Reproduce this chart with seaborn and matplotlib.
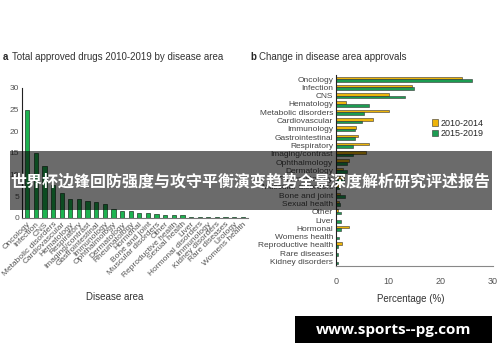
import pandas as pd
import seaborn as sns
import matplotlib.pyplot as plt
from matplotlib.patches import Rectangle

# panel a : total approved drugs 2010-2019 (%)
areas_a = ["Oncology", "Infection", "CNS", "Metabolic disorders", "Cardiovascular",
           "Hematology", "Respiratory", "Imaging/contrast", "Gastrointestinal",
           "Immunology", "Ophthalmology", "Dermatology", "Rheumatology", "Hormonal",
           "Bone and joint", "Muscular disorders", "Other", "Reproductive health",
           "Sexual health", "Liver", "Hormonal disorders", "Immunology",
           "Kidney disorders", "Rare diseases", "Urology", "Womens health"]
total_a = [25, 15, 12, 7.5, 5.7, 4.3, 4.3, 3.9, 3.7, 3.2, 2.1, 1.6, 1.6, 1.2,
           1.2, 0.8, 0.6, 0.6, 0.6, 0.3, 0.2, 0.2, 0.2, 0.2, 0.2, 0.2]

# panel b : change in disease area approvals (%)
areas_b = ["Oncology", "Infection", "CNS", "Hematology", "Metabolic disorders",
           "Cardiovascular", "Immunology", "Gastrointestinal", "Respiratory",
           "Imaging/contrast", "Ophthalmology", "Dermatology", "Rheumatology",
           "Muscular disorders", "Bone and joint", "Sexual health", "Other", "Liver",
           "Hormonal", "Womens health", "Reproductive health", "Rare diseases",
           "Kidney disorders"]
periods = ["2010-2014", "2015-2019"]
pct_2010_2014 = [24.1, 14.6, 10.2, 1.9, 10.2, 7.0, 3.8, 4.3, 6.4, 5.7, 2.5, 1.4,
                 1.5, 0.8, 0.8, 0.5, 0.3, 0.0, 2.5, 0.0, 1.2, 0.0, 0.0]
pct_2015_2019 = [26.0, 14.9, 13.2, 6.4, 5.4, 5.0, 3.6, 3.6, 3.2, 3.2, 2.2, 2.2,
                 1.6, 0.6, 1.7, 0.8, 0.9, 0.9, 0.9, 0.5, 0.3, 0.3, 0.3]

banner = "世界杯边锋回防强度与攻守平衡演变趋势全景深度解析研究评述报告"
site = "www.sports--pg.com"

sns.set_style("white")
plt.rcParams["font.family"] = ["Liberation Sans", "DejaVu Sans"]

green = "#1db350"
yellow = "#edb40a"
grey = "#555555"

fig = plt.figure(figsize=(5, 3.62), dpi=100)

# a
ax1 = fig.add_axes([0.044, 0.398, 0.452, 0.359])
df_a = pd.DataFrame({"pos": range(len(areas_a)), "pct": total_a})
sns.barplot(data=df_a, x="pos", y="pct", color=green, saturation=1, width=0.5,
            edgecolor="#1b3a25", linewidth=0.5, ax=ax1)
ax1.set_ylim(0, 30)
ax1.set_xlim(-0.6, len(areas_a) - 0.4)
ax1.set_yticks(range(0, 31, 5))
ax1.set_xticks(range(len(areas_a)))
ax1.set_xticklabels(areas_a, rotation=45, ha="right", rotation_mode="anchor")
ax1.set_xlabel("")
ax1.set_ylabel("")
ax1.tick_params(axis="both", length=0, labelsize=6, labelcolor=grey, pad=2)
sns.despine(ax=ax1)
ax1.spines["left"].set_color("#222222")
ax1.spines["bottom"].set_color("#777777")
ax1.spines["left"].set_linewidth(0.8)
ax1.spines["bottom"].set_linewidth(0.8)

# b
ax2 = fig.add_axes([0.672, 0.266, 0.313, 0.527])
df_b = pd.DataFrame({
    "area": areas_b * 2,
    "pct": pct_2010_2014 + pct_2015_2019,
    "period": [periods[0]] * len(areas_b) + [periods[1]] * len(areas_b),
})
sns.barplot(data=df_b, y="area", x="pct", hue="period", hue_order=periods,
            order=areas_b, palette=[yellow, "#1c9c52"], saturation=1, width=0.62,
            edgecolor="#333333", linewidth=0.4, ax=ax2)
ax2.set_xlim(0, 30)
ax2.set_xticks([0, 10, 20, 30])
ax2.set_xlabel("")
ax2.set_ylabel("")
ax2.tick_params(axis="y", length=0, labelsize=6, labelcolor="#444444", pad=2)
ax2.tick_params(axis="x", length=0, labelsize=6.5, labelcolor=grey, pad=8)
sns.despine(ax=ax2)
ax2.spines["left"].set_color("#222222")
ax2.spines["bottom"].set_color("#888888")
ax2.spines["left"].set_linewidth(0.8)
ax2.spines["bottom"].set_linewidth(0.8)
ax2.legend(loc="upper left", bbox_to_anchor=(0.855, 0.685), bbox_transform=fig.transFigure,
           frameon=False, fontsize=6.5, handlelength=0.7, handleheight=0.7,
           handletextpad=0.3, labelspacing=0.15, borderpad=0)

# titles and axis names
fig.text(0.006, 0.842, "a", fontsize=7, fontweight="bold", va="center")
fig.text(0.024, 0.842, "Total approved drugs 2010-2019 by disease area", fontsize=7,
         color="#333333", va="center")
fig.text(0.5, 0.842, "b", fontsize=7, fontweight="bold", va="center")
fig.text(0.518, 0.842, "Change in disease area approvals", fontsize=7,
         color="#333333", va="center")
fig.text(0.23, 0.18, "Disease area", fontsize=7, color="#333333", ha="center", va="center")
fig.text(0.822, 0.174, "Percentage (%)", fontsize=7, color="#333333", ha="center", va="center")

# overlay banner
fig.patches.append(Rectangle((0.02, 1 - 210 / 362), 0.963, 59 / 362, transform=fig.transFigure,
                             facecolor="black", alpha=0.58, edgecolor="none", zorder=10))
fig.text(0.5, 1 - 182 / 362, banner, fontsize=11.5, fontweight="bold", color="white",
         ha="center", va="center", family=["Noto Sans CJK SC", "DejaVu Sans"], zorder=11)

# watermark
fig.patches.append(Rectangle((0.59, 1 - 343 / 362), 0.394, 27 / 362, transform=fig.transFigure,
                             facecolor="black", edgecolor="none", zorder=10))
fig.text(0.787, 1 - 330 / 362, site, fontsize=11, fontweight="bold", color="white",
         ha="center", va="center", family=["Open Sans", "DejaVu Sans"], zorder=11)

fig.savefig("out.png", dpi=100)
